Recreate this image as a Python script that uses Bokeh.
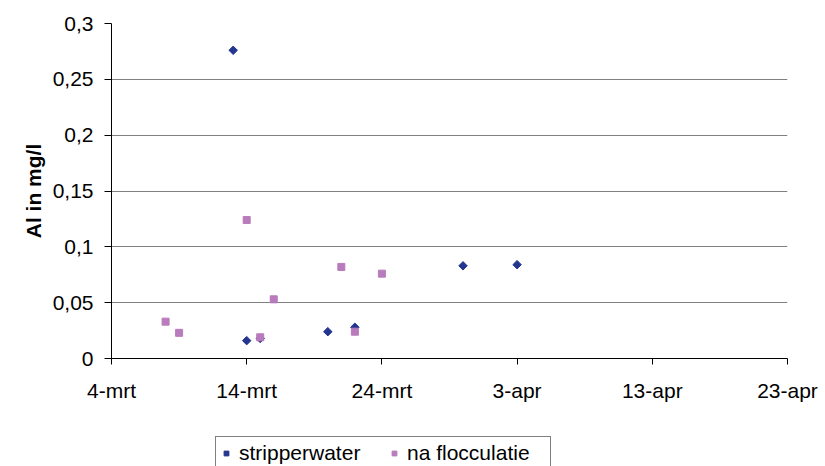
import pandas as pd
from bokeh.plotting import figure
from bokeh.layouts import column
from bokeh.models import Range1d, FixedTicker, CustomJSTickFormatter, Legend, LegendItem
from bokeh.embed import file_html
from bokeh.resources import INLINE

YEAR = 2007

# Data (day-month)
strip_dates = ["13-03", "14-03", "15-03", "20-03", "22-03", "30-03", "03-04"]
strip_values = [0.276, 0.016, 0.018, 0.024, 0.028, 0.083, 0.084]

floc_dates = ["08-03", "09-03", "14-03", "15-03", "16-03", "21-03", "22-03", "24-03"]
floc_values = [0.033, 0.023, 0.124, 0.019, 0.053, 0.082, 0.024, 0.076]

series_names = ["stripperwater", "na flocculatie"]
x_tick_dates = ["04-03", "14-03", "24-03", "03-04", "13-04", "23-04"]
y_ticks = [0, 0.05, 0.1, 0.15, 0.2, 0.25, 0.3]


def to_dt(s):
    d, m = s.split("-")
    return pd.Timestamp(year=YEAR, month=int(m), day=int(d))


def to_ms(s):
    return to_dt(s).value // 10**6


strip_x = [to_dt(s) for s in strip_dates]
floc_x = [to_dt(s) for s in floc_dates]
x_ticks_ms = [to_ms(s) for s in x_tick_dates]

FONT = "Liberation Sans"
FS = "21px"
NAVY = "#23358e"
PINK = "#b87bbb"

p = figure(width=825, height=432, x_axis_type="datetime",
           output_backend="svg", toolbar_location=None,
           x_range=Range1d(x_ticks_ms[0], x_ticks_ms[-1]),
           y_range=Range1d(y_ticks[0], y_ticks[-1]),
           min_border_left=111, min_border_right=38,
           min_border_top=23, min_border_bottom=74)
p.outline_line_color = None
p.background_fill_color = "white"
p.border_fill_color = "white"

p.scatter(strip_x, strip_values, marker="square", angle=0.785398, size=6,
          fill_color=NAVY, line_color=NAVY)
p.scatter(floc_x, floc_values, marker="square", size=7,
          fill_color=PINK, line_color=PINK)

# X axis
p.xaxis.ticker = FixedTicker(ticks=x_ticks_ms)
p.xaxis.formatter = CustomJSTickFormatter(code="""
const m = ['jan','feb','mrt','apr','mei','jun','jul','aug','sep','okt','nov','dec'];
const d = new Date(tick);
return d.getUTCDate() + '-' + m[d.getUTCMonth()];
""")
p.xaxis.axis_line_color = "black"
p.xaxis.major_tick_line_color = "black"
p.xaxis.major_tick_out = 6
p.xaxis.major_tick_in = 0
p.xaxis.minor_tick_line_color = None
p.xaxis.major_label_text_font = FONT
p.xaxis.major_label_text_font_size = FS
p.xaxis.major_label_text_color = "black"
p.xaxis.major_label_standoff = 14

# Y axis
p.yaxis.ticker = FixedTicker(ticks=y_ticks)
p.yaxis.formatter = CustomJSTickFormatter(code="""
return tick.toFixed(2).replace(/0+$/, '').replace(/\\.$/, '').replace('.', ',');
""")
p.yaxis.axis_line_color = "black"
p.yaxis.major_tick_line_color = "black"
p.yaxis.major_tick_out = 7
p.yaxis.major_tick_in = 0
p.yaxis.minor_tick_line_color = None
p.yaxis.major_label_text_font = FONT
p.yaxis.major_label_text_font_size = FS
p.yaxis.major_label_text_color = "black"
p.yaxis.major_label_standoff = 11
p.yaxis.axis_label = "Al in mg/l"
p.yaxis.axis_label_text_font = FONT
p.yaxis.axis_label_text_font_size = FS
p.yaxis.axis_label_text_font_style = "bold"
p.yaxis.axis_label_text_color = "black"
p.yaxis.axis_label_standoff = 5

p.xgrid.grid_line_color = None
p.ygrid.grid_line_color = "#808080"
p.ygrid.grid_line_width = 1

# Legend strip below the chart (legend-only glyphs sit outside the visible range)
q = figure(width=825, height=34, output_backend="svg", toolbar_location=None,
           x_axis_location=None, y_axis_location=None,
           x_range=Range1d(0, 1), y_range=Range1d(0, 1),
           min_border_left=0, min_border_right=0,
           min_border_top=0, min_border_bottom=0)
q.outline_line_color = None
q.grid.grid_line_color = None
q.border_fill_color = "white"
l1 = q.scatter([-10], [-10], marker="square", angle=0.785398, size=6,
               fill_color=NAVY, line_color=NAVY)
l2 = q.scatter([-10], [-10], marker="square", size=7,
               fill_color=PINK, line_color=PINK)
legend = Legend(items=[LegendItem(label=series_names[0], renderers=[l1]),
                       LegendItem(label=series_names[1], renderers=[l2])],
                orientation="horizontal", location=(104, -4),
                border_line_color="black", border_line_width=1,
                background_fill_color="white", background_fill_alpha=1,
                label_text_font=FONT, label_text_font_size=FS,
                label_text_color="black",
                glyph_width=12, glyph_height=20, label_standoff=7,
                spacing=10, padding=4, margin=0, label_width=139)
q.add_layout(legend, "center")

layout = column(p, q, spacing=0)
open("out.html", "w").write(file_html(layout, INLINE))
